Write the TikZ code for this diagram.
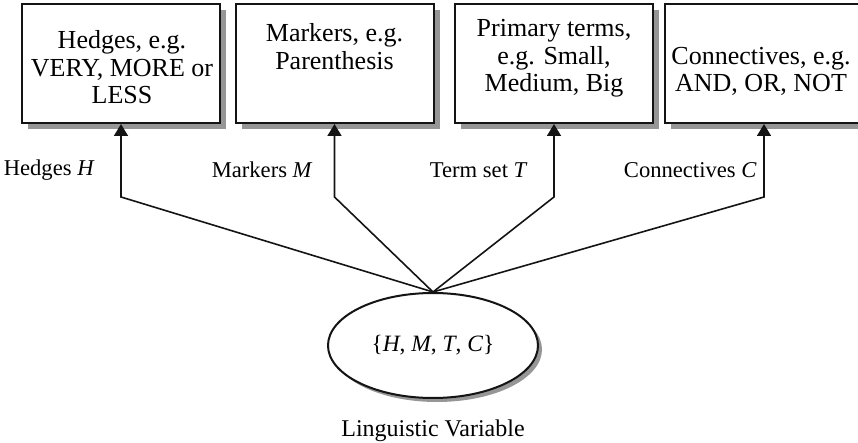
\documentclass[tikz,border=0pt]{standalone}
\usepackage{fontspec}
\setmainfont{Liberation Serif}
\usetikzlibrary{arrows.meta, positioning, calc, shadows, shapes.geometric}
\definecolor{clrLn}{RGB}{ 20, 20, 20}
\definecolor{clrSh}{RGB}{150,150,150}

\begin{document}
\begin{tikzpicture}[
  x=0.5pt, y=-0.5pt,
  %% ── node styles ──────────────────────────────────────────────────────────
  termbox/.style = {rectangle, draw=clrLn, line width=1pt, fill=white,
                    minimum width=99pt, minimum height=59.5pt, inner sep=0pt,
                    drop shadow={shadow xshift=3pt, shadow yshift=-3pt,
                                 fill=clrSh, opacity=1}},
  boxtxt/.style  = {align=center, inner sep=0pt,
                    font=\fontsize{13}{13.75}\selectfont},
  varnode/.style = {ellipse, draw=clrLn, line width=1pt, fill=white,
                    minimum width=105pt, minimum height=52.5pt, inner sep=0pt,
                    font=\fontsize{11.7}{14}\selectfont,
                    drop shadow={shadow xshift=2pt, shadow yshift=-2pt,
                                 fill=clrSh, opacity=1}},
  %% ── arrow / label styles ─────────────────────────────────────────────────
  conn/.style = {-{Triangle[length=6pt, width=7pt]}, line width=0.8pt,
                 color=clrLn},
  lab/.style  = {anchor=east, inner sep=0pt, font=\fontsize{11.3}{14}\selectfont},
  namelab/.style = {inner sep=0pt, font=\fontsize{12}{14}\selectfont},
]
\useasboundingbox (0,0) rectangle (858,443);

%% ═══════════════════════════════════════════════════════════════════════════
%% TOP ROW: the four term boxes
%% ═══════════════════════════════════════════════════════════════════════════
\node[termbox] (hedge) at (121,63.5)   {};
\node[termbox] (mark)  at (334.5,63.5) {};
\node[termbox] (term)  at (554,63.5)   {};
\node[termbox] (conv)  at (764,63.5)   {};

\node[boxtxt] (hedgetxt) at ($(hedge)+(1,4)$)  {Hedges, e.g.\\VERY, MORE or\\LESS};
\node[boxtxt] (marktxt)  at ($(mark)+(0,-17)$) {Markers, e.g.\\Parenthesis};
\node[boxtxt] (termtxt)  at ($(term)+(0,-5)$)  {Primary terms,\\e.g. Small,\\Medium, Big};
\node[boxtxt] (convtxt)  at ($(conv)+(-3,8)$)  {Connectives, e.g.\\AND, OR, NOT};

%% ═══════════════════════════════════════════════════════════════════════════
%% BOTTOM: the linguistic variable
%% ═══════════════════════════════════════════════════════════════════════════
\node[varnode] (lv) at (433,345.5)
      {\{\textit{H}, \textit{M}, \textit{T}, \textit{C}\}};
\node[namelab, below=10pt of lv] (lvname) {Linguistic Variable};

%% ── connectors: up from the ellipse, kink, then straight into each box ───
\coordinate (kink) at (0,197);
\draw[conn] (lv.north) -- (hedge.south |- kink) -- (hedge.south);
\draw[conn] (lv.north) -- (mark.south |- kink)  -- (mark.south);
\draw[conn] (lv.north) -- (term.south |- kink)  -- (term.south);
\draw[conn] (lv.north) -- (conv.south |- kink)  -- (conv.south);

%% ── connector labels ──────────────────────────────────────────────────────
\node[lab] (hedgelab) at (95,170)  {Hedges \textit{H}};
\node[lab] (marklab)  at (313,170) {Markers \textit{M}};
\node[lab] (termlab)  at (528,170) {Term set \textit{T}};
\node[lab] (convlab)  at (757,170) {Connectives \textit{C}};

\end{tikzpicture}
\end{document}
